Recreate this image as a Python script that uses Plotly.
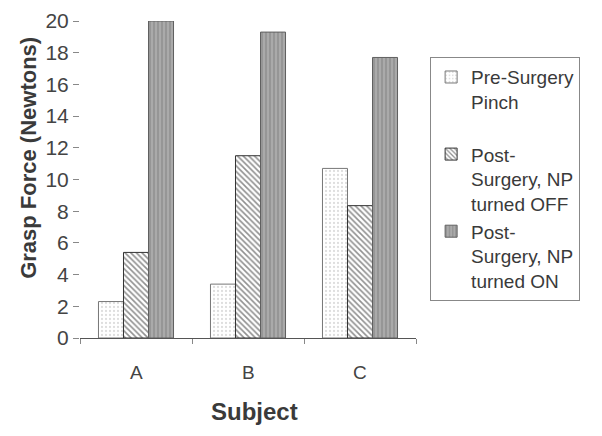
import plotly.graph_objects as go

subjects = ["A", "B", "C"]
pre_pinch = [2.3, 3.4, 10.7]
post_off = [5.4, 11.5, 8.35]
post_on = [20.0, 19.3, 17.7]

names = ["Pre-Surgery<br>Pinch<br> ", "Post-<br>Surgery, NP<br>turned OFF", "Post-<br>Surgery, NP<br>turned ON"]

fig = go.Figure()
fig.add_trace(go.Bar(x=subjects, y=pre_pinch, name=names[0],
                     marker=dict(color="white", line=dict(color="#777777", width=1),
                                 pattern=dict(shape=".", fgcolor="#bbbbbb", bgcolor="white", size=4, solidity=0.25))))
fig.add_trace(go.Bar(x=subjects, y=post_off, name=names[1],
                     marker=dict(color="white", line=dict(color="#333333", width=1),
                                 pattern=dict(shape="\\", fgcolor="#222222", bgcolor="white", size=4, solidity=0.4))))
fig.add_trace(go.Bar(x=subjects, y=post_on, name=names[2],
                     marker=dict(color="#a0a0a0", line=dict(color="#606060", width=1),
                                 pattern=dict(shape="|", fgcolor="#787878", bgcolor="#aaaaaa", size=4, solidity=0.4))))

# page body adds 8px, so the margins are shifted by that much
fig.update_layout(
    width=602, height=436,
    margin=dict(l=72, r=194, t=13, b=106),
    paper_bgcolor="white", plot_bgcolor="white",
    barmode="group", bargap=0.33, bargroupgap=0,
    font=dict(family="Liberation Sans, Arial", color="#3a3a3a"),
    legend=dict(x=1.042, y=0.886, xanchor="left", yanchor="top",
                bordercolor="#888888", borderwidth=1, valign="top",
                font=dict(size=19, color="#3a3a3a")),
    xaxis=dict(showline=True, linecolor="#555555", linewidth=1, automargin=False,
               ticks="outside", ticklen=5, tickcolor="#888888",
               tickmode="array", tickvals=[-0.5, 0.5, 1.5, 2.5], ticktext=["", "", "", ""],
               range=[-0.5, 2.5], showgrid=False),
    yaxis=dict(range=[0, 20], dtick=2, showline=False, showgrid=False, zeroline=False, automargin=False,
               ticks="outside", ticklen=6, tickcolor="#888888",
               tickfont=dict(size=21, color="#444444")),
)

for i, s in enumerate(subjects):
    fig.add_annotation(x=i, y=0, yref="y", text=s, showarrow=False, yshift=-34,
                       font=dict(size=19, color="#444444"))

fig.add_annotation(xref="paper", yref="paper", x=0.518, y=-0.233, text="<b>Subject</b>",
                   xanchor="center", yanchor="middle",
                   showarrow=False, font=dict(size=24, color="#3a3a3a"))
fig.add_annotation(xref="paper", yref="paper", x=-0.152, y=0.568, text="<b>Grasp Force (Newtons)</b>",
                   xanchor="center", yanchor="middle",
                   textangle=-90, showarrow=False, font=dict(size=22, color="#3a3a3a"))

fig.write_html("out.html")
